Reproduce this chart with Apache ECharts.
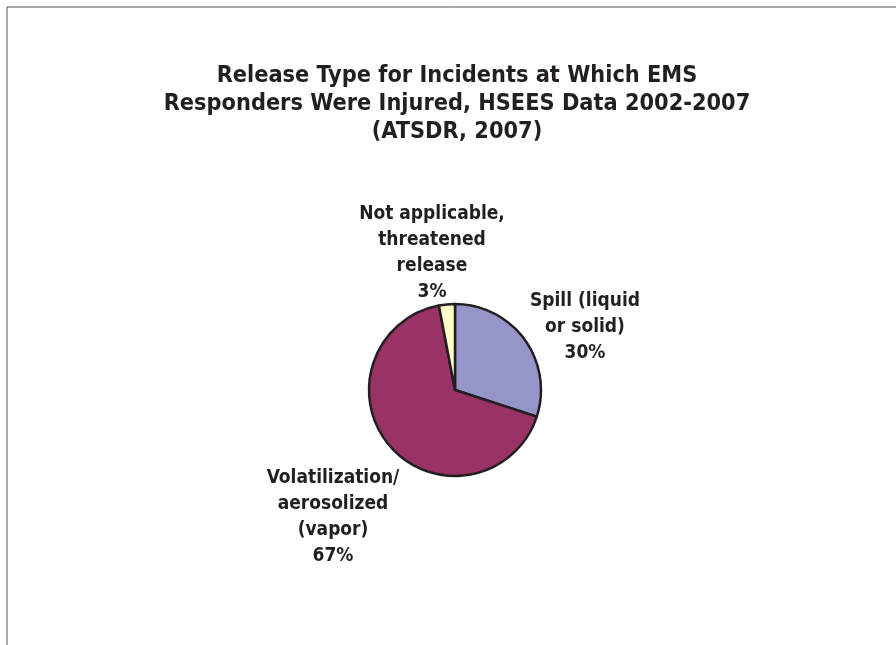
<!DOCTYPE html>
<html>
<head>
<meta charset="utf-8">
<style>
  html, body { margin: 0; padding: 0; background: #fff; }
  #chart { width: 896px; height: 645px; }
</style>
<script src="https://cdn.jsdelivr.net/npm/echarts@6/dist/echarts.min.js"></script>
</head>
<body>
<div id="chart"></div>
<script>
// Release types and their share of incidents (percent)
const categories = [
  'Spill (liquid\nor solid)',
  'Volatilization/\naerosolized\n(vapor)',
  'Not applicable,\nthreatened\nrelease'
];
const shares = [30, 67, 3];
const colors = ['#9595C9', '#993366', '#FFFFCC'];

const titleLines = [
  'Release Type for Incidents at Which EMS',
  'Responders Were Injured, HSEES Data 2002-2007',
  '(ATSDR, 2007)'
];

// Where each label block is centred (x, y of its middle)
const labelCentres = [
  [585, 327],
  [333, 517],
  [432, 253]
];

const FONT = '"Liberation Sans Narrow", "DejaVu Sans Condensed", "Liberation Sans", sans-serif';

const chart = echarts.init(document.getElementById('chart'));
chart.setOption({
  backgroundColor: '#fff',
  animation: false,
  title: {
    text: titleLines.join('\n'),
    left: 452,
    top: 57,
    textAlign: 'center',
    textStyle: {
      fontFamily: FONT,
      fontWeight: 'bold',
      fontSize: 23.3,
      lineHeight: 28,
      color: '#231f20'
    }
  },
  graphic: [
    { type: 'line', shape: { x1: 7, y1: 7, x2: 896, y2: 7 }, style: { stroke: '#555', lineWidth: 1 } },
    { type: 'line', shape: { x1: 7, y1: 7, x2: 7, y2: 645 }, style: { stroke: '#555', lineWidth: 1 } }
  ],
  series: [{
    type: 'pie',
    center: [455, 390],
    radius: 86,
    startAngle: 90,
    clockwise: true,
    data: categories.map((name, i) => ({
      name,
      value: shares[i],
      itemStyle: { color: colors[i] }
    })),
    itemStyle: { borderColor: '#231f20', borderWidth: 2.5 },
    emphasis: { disabled: true },
    label: {
      show: true,
      position: 'outside',
      formatter: p => p.name + '\n' + p.value + '%',
      fontFamily: FONT,
      fontWeight: 'bold',
      fontSize: 19,
      lineHeight: 26,
      color: '#231f20',
      align: 'center'
    },
    labelLine: { show: false },
    labelLayout: params => ({
      x: labelCentres[params.dataIndex][0],
      y: labelCentres[params.dataIndex][1],
      align: 'center',
      verticalAlign: 'middle'
    })
  }]
});
</script>
</body>
</html>
